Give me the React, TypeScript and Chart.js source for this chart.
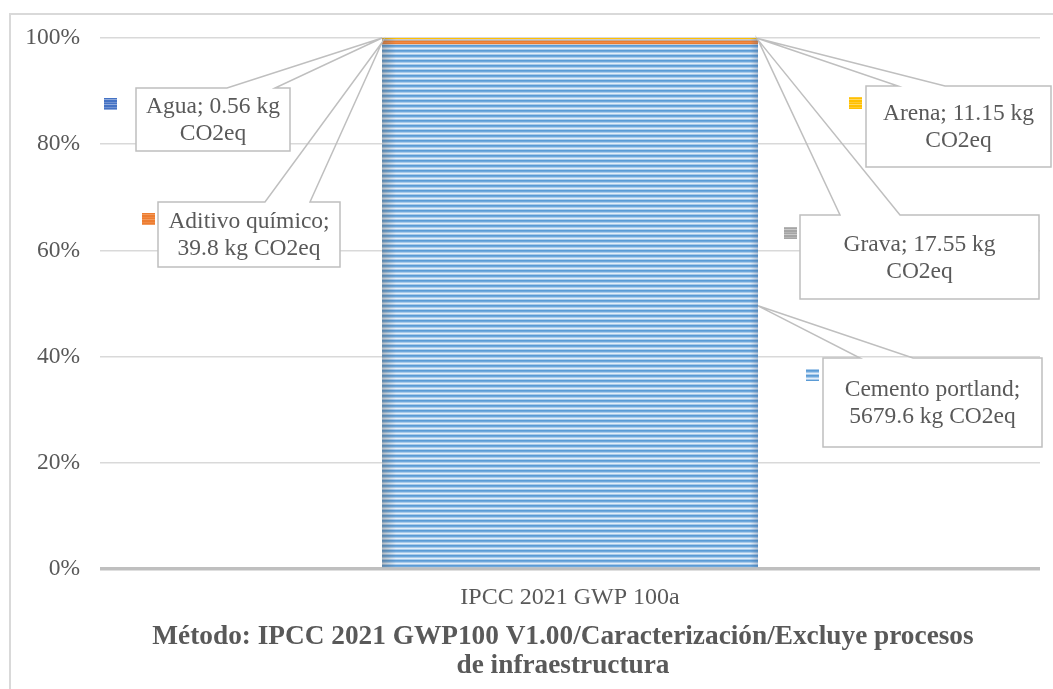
import React, { useEffect, useRef } from "react";
import { Chart, registerables } from "chart.js";

Chart.register(...registerables);

// ---------------- DATA ----------------
const categories = ["IPCC 2021 GWP 100a"];
const seriesNames = ["Cemento portland", "Aditivo químico", "Grava", "Arena", "Agua"];
const seriesValues = [5679.6, 39.8, 17.55, 11.15, 0.56]; // kg CO2eq
const valueUnit = "kg CO2eq";
const yTickLabels = ["0%", "20%", "40%", "60%", "80%", "100%"];
const titleLines = [
  "Método: IPCC 2021 GWP100 V1.00/Caracterización/Excluye procesos",
  "de infraestructura",
];

// ---------------- STYLE / LAYOUT ----------------
const FONT = "'Liberation Serif', 'Times New Roman', serif";
const TEXT = "#595959";
const W = 1053;
const H = 689;

// stripe colours per series
const SERIES_STRIPES: string[][] = [
  ["#5b9bd5", "#6fa8dc", "#a9cbeb", "#e3eef9", "#a9cbeb"],
  ["#ed7d31", "#ed7d31", "#f08a45", "#ed7d31", "#f29b5e"],
  ["#a5a5a5", "#a5a5a5", "#b5b5b5", "#a5a5a5", "#c9c9c9"],
  ["#ffc000", "#ffc000", "#ffcb33", "#ffc000", "#ffd966"],
  ["#4472c4", "#4472c4", "#6f91d0", "#4472c4", "#8faadc"],
];

// callout layout: box [l, t, r, b], wedge base x on top edge, legend key [x, y], anchor side
const CALLOUTS = [
  { s: 4, side: "left", box: [136, 88, 290, 151], wedge: [227, 275], key: [104, 98] },
  { s: 1, side: "left", box: [158, 202, 340, 267], wedge: [265, 310], key: [142, 213] },
  { s: 3, side: "right", box: [866, 86, 1051, 167], wedge: [898, 945], key: [849, 97] },
  { s: 2, side: "right", box: [800, 215, 1039, 299], wedge: [840, 900], key: [784, 227] },
  { s: 0, side: "right", box: [823, 358, 1042, 447], wedge: [860, 913], key: [806, 369] },
];

function makePattern(colors: string[]): CanvasPattern | string {
  const c = document.createElement("canvas");
  c.width = 4;
  c.height = colors.length;
  const g = c.getContext("2d");
  if (!g) return colors[0];
  colors.forEach((col, i) => {
    g.fillStyle = col;
    g.fillRect(0, i, 4, 1);
  });
  const p = g.createPattern(c, "repeat");
  return p || colors[0];
}

function wrapText(ctx: CanvasRenderingContext2D, text: string, maxW: number): string[] {
  const words = text.split(" ");
  const lines: string[] = [];
  let cur = "";
  for (const w of words) {
    const t = cur ? cur + " " + w : w;
    if (ctx.measureText(t).width > maxW && cur) {
      lines.push(cur);
      cur = w;
    } else cur = t;
  }
  if (cur) lines.push(cur);
  return lines;
}

export default function App() {
  const ref = useRef<HTMLCanvasElement | null>(null);

  useEffect(() => {
    if (!ref.current) return;
    const total = seriesValues.reduce((a, b) => a + b, 0);
    const patterns = SERIES_STRIPES.map(makePattern);

    const decor = {
      id: "decor",
      beforeDraw(chart: any) {
        const ctx = chart.ctx as CanvasRenderingContext2D;
        ctx.save();
        ctx.fillStyle = "#ffffff";
        ctx.fillRect(0, 0, W, H);
        ctx.strokeStyle = "#d9d9d9";
        ctx.lineWidth = 2;
        ctx.beginPath();
        ctx.moveTo(10, H);
        ctx.lineTo(10, 14);
        ctx.lineTo(W, 14);
        ctx.stroke();
        ctx.restore();
      },
      afterDatasetsDraw(chart: any) {
        const ctx = chart.ctx as CanvasRenderingContext2D;
        // bevel shading on bar edges
        const metas = chart.getSortedVisibleDatasetMetas();
        const first = metas[0].data[0] as any;
        const last = metas[metas.length - 1].data[0] as any;
        const bl = first.x - first.width / 2;
        const br = first.x + first.width / 2;
        const bt = last.y;
        const bb = first.base;
        ctx.save();
        let g = ctx.createLinearGradient(bl, 0, bl + 14, 0);
        g.addColorStop(0, "rgba(90,90,90,0.35)");
        g.addColorStop(1, "rgba(90,90,90,0)");
        ctx.fillStyle = g;
        ctx.fillRect(bl, bt, 14, bb - bt);
        g = ctx.createLinearGradient(br - 8, 0, br, 0);
        g.addColorStop(0, "rgba(60,90,130,0)");
        g.addColorStop(1, "rgba(60,90,130,0.3)");
        ctx.fillStyle = g;
        ctx.fillRect(br - 8, bt, 8, bb - bt);
        ctx.restore();
      },
      afterDraw(chart: any) {
        const ctx = chart.ctx as CanvasRenderingContext2D;
        ctx.save();
        // callouts
        ctx.font = `23.5px ${FONT}`;
        for (const c of CALLOUTS) {
          const el = chart.getDatasetMeta(c.s).data[0] as any;
          const tx = c.side === "left" ? el.x - el.width / 2 : el.x + el.width / 2;
          const ty = (el.y + el.base) / 2;
          const [l, t, r, b] = c.box;
          ctx.fillStyle = "#ffffff";
          ctx.fillRect(l, t, r - l, b - t);
          ctx.strokeStyle = "#bfbfbf";
          ctx.lineWidth = 1.5;
          ctx.lineJoin = "miter";
          ctx.beginPath();
          ctx.moveTo(l, t);
          ctx.lineTo(c.wedge[0], t);
          ctx.lineTo(tx, ty);
          ctx.lineTo(c.wedge[1], t);
          ctx.lineTo(r, t);
          ctx.lineTo(r, b);
          ctx.lineTo(l, b);
          ctx.closePath();
          ctx.stroke();
          // text
          const label = `${seriesNames[c.s]}; ${seriesValues[c.s]} ${valueUnit}`;
          const lines = wrapText(ctx, label, r - l - 18);
          const lh = 27;
          const cy = (t + b) / 2;
          ctx.fillStyle = TEXT;
          ctx.textAlign = "center";
          ctx.textBaseline = "middle";
          lines.forEach((ln, i) => {
            ctx.fillText(ln, (l + r) / 2, cy + (i - (lines.length - 1) / 2) * lh + 1);
          });
          // legend key
          ctx.fillStyle = patterns[c.s] as any;
          ctx.fillRect(c.key[0], c.key[1], 13, 12);
        }
        // title
        ctx.fillStyle = TEXT;
        ctx.font = `bold 27.3px ${FONT}`;
        ctx.textAlign = "center";
        ctx.textBaseline = "middle";
        titleLines.forEach((ln, i) => ctx.fillText(ln, 563, 637 + i * 29));
        ctx.restore();
      },
    };

    const chart = new Chart(ref.current, {
      type: "bar",
      data: {
        labels: categories,
        datasets: seriesNames.map((name, i) => ({
          label: name,
          data: [(seriesValues[i] / total) * 100],
          backgroundColor: patterns[i] as any,
          borderWidth: 0,
          barPercentage: 0.4,
          categoryPercentage: 1,
        })),
      },
      options: {
        responsive: false,
        animation: false,
        devicePixelRatio: 1,
        layout: { padding: { left: 0, top: 38, right: 13, bottom: 75 } },
        plugins: {
          legend: { display: false },
          tooltip: { enabled: false },
          title: { display: false },
        },
        scales: {
          x: {
            stacked: true,
            grid: { display: false, drawTicks: false },
            border: { display: false },
            ticks: { font: { family: FONT, size: 24 }, color: TEXT, padding: 14 },
            afterFit: (s: any) => {
              s.height = 45;
            },
          },
          y: {
            stacked: true,
            min: 0,
            max: 100,
            ticks: {
              stepSize: 20,
              padding: 20,
              font: { family: FONT, size: 23.5 },
              color: TEXT,
              callback: (_v: any, i: number) => yTickLabels[i],
            },
            grid: {
              drawTicks: false,
              color: (c: any) => (c.tick && c.tick.value === 0 ? "#bfbfbf" : "#d9d9d9"),
              lineWidth: (c: any) => (c.tick && c.tick.value === 0 ? 3.5 : 1.5),
            },
            border: { display: false },
            afterFit: (s: any) => {
              s.width = 100;
            },
          },
        },
      },
      plugins: [decor],
    });
    return () => chart.destroy();
  }, []);

  return (
    <canvas
      ref={ref}
      width={W}
      height={H}
      style={{ position: "fixed", left: 0, top: 0, width: W, height: H }}
    />
  );
}
